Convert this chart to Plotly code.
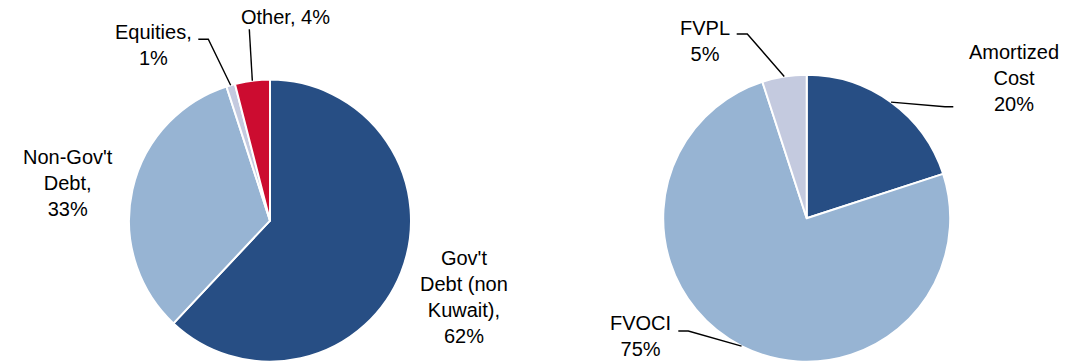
import math
import plotly.graph_objects as go

W, H = 1089, 364

# Portfolio by asset type
asset_labels = ["Gov't Debt (non Kuwait)", "Non-Gov't Debt", "Equities", "Other"]
asset_values = [62, 33, 1, 4]
asset_colors = ["#274E84", "#97B4D3", "#C4CADF", "#CC0C30"]

# Portfolio by accounting classification
class_labels = ["Amortized Cost", "FVOCI", "FVPL"]
class_values = [20, 75, 5]
class_colors = ["#274E84", "#97B4D3", "#C4CADF"]

# Pie placement in pixels: centre x, centre y, radius
LEFT_PIE = (270.0, 220.6, 141.0)
RIGHT_PIE = (806.7, 218.2, 143.5)


def domain_for(cx, cy, r):
    return dict(
        x=[(cx - r) / W, (cx + r) / W],
        y=[1 - (cy + r) / H, 1 - (cy - r) / H],
    )


def rim_point(pie, values, idx):
    """Point on the pie rim at the middle of slice idx (clockwise from 12 o'clock)."""
    cx, cy, r = pie
    total = float(sum(values))
    start = sum(values[:idx]) / total
    mid = start + values[idx] / total / 2
    ang = 2 * math.pi * mid
    return cx + r * math.sin(ang), cy - r * math.cos(ang)


fig = go.Figure()
for pie, labels, values, colors in [
    (LEFT_PIE, asset_labels, asset_values, asset_colors),
    (RIGHT_PIE, class_labels, class_values, class_colors),
]:
    fig.add_trace(go.Pie(
        labels=labels,
        values=values,
        sort=False,
        direction="clockwise",
        rotation=0,
        textinfo="none",
        hoverinfo="label+percent",
        marker=dict(colors=colors, line=dict(color="white", width=2)),
        domain=domain_for(*pie),
        showlegend=False,
    ))


def pct(values, i):
    return f"{round(100 * values[i] / sum(values))}%"


# Slice labels: (text, centre x px, centre y px)
label_specs = [
    (f"Gov't<br>Debt (non<br>Kuwait),<br>{pct(asset_values, 0)}", 464, 297),
    (f"Non-Gov't<br>Debt,<br>{pct(asset_values, 1)}", 67.5, 183),
    (f"Equities,<br>{pct(asset_values, 2)}", 153, 44.5),
    (f"Other, {pct(asset_values, 3)}", 285.8, 17),
    (f"Amortized<br>Cost<br>{pct(class_values, 0)}", 1014, 78),
    (f"FVOCI<br>{pct(class_values, 1)}", 640.5, 335.5),
    (f"FVPL<br>{pct(class_values, 2)}", 704.5, 40.5),
]
for text, x, y in label_specs:
    fig.add_annotation(
        text=text, x=x / W, y=1 - y / H, xref="paper", yref="paper",
        xanchor="center", yanchor="middle", showarrow=False, align="center",
        font=dict(family="Liberation Sans, Arial, sans-serif", size=20, color="#000000"),
    )

# Leader lines: elbow points near the label, ending on the slice rim
leaders = [
    ([(198.3, 39.3), (208.3, 39.3)], rim_point(LEFT_PIE, asset_values, 2)),
    ([(249.3, 29.3)], rim_point(LEFT_PIE, asset_values, 3)),
    ([(953.3, 106.7), (945.0, 106.7)], rim_point(RIGHT_PIE, class_values, 0)),
    ([(678.3, 331.0), (688.3, 331.0)], rim_point(RIGHT_PIE, class_values, 1)),
    ([(736.7, 34.0), (747.3, 34.0)], rim_point(RIGHT_PIE, class_values, 2)),
]
for pts, end in leaders:
    seq = pts + [end]
    path = "M " + " L ".join(f"{px / W:.5f},{1 - py / H:.5f}" for px, py in seq)
    fig.add_shape(type="path", path=path, xref="paper", yref="paper",
                  line=dict(color="#000000", width=1.4))

fig.update_layout(
    width=W, height=H,
    margin=dict(l=0, r=0, t=0, b=0),
    paper_bgcolor="white", plot_bgcolor="white",
)

fig.write_html("out.html")
